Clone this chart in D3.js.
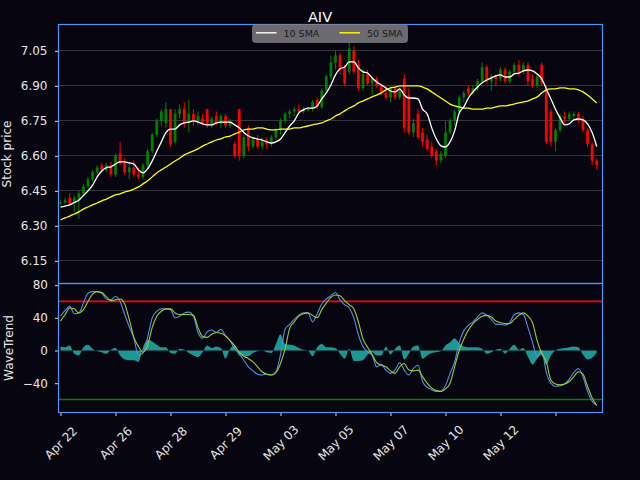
<!DOCTYPE html>
<html>
<head>
<meta charset="utf-8">
<script src="https://cdn.jsdelivr.net/npm/d3@7"></script>
<style>
	html, body { margin: 0; padding: 0; background: #07050f; overflow: hidden; }
	svg { display: block; font-family: "DejaVu Sans", sans-serif; }
</style>
</head>
<body>
<div id="chart"></div>
<script>
const W = 640, H = 480;
const bg = "#07050f";
const spine = "#4f94f7";

const ticker = "AIV";
const xLabels = ["Apr 22","Apr 26","Apr 28","Apr 29","May 03","May 05","May 07","May 10","May 12",""];
const barsPerTick = 12;
const priceTicks = [6.15, 6.30, 6.45, 6.60, 6.75, 6.90, 7.05];
const wtTicks = [-40, 0, 40, 80];
const obLevel = 60, osLevel = -60;

const opens = [
	6.395,6.40,6.42,6.395,6.41,6.44,6.47,6.50,6.53,6.56,
	6.54,6.56,6.52,6.61,6.57,6.53,6.55,6.52,6.51,6.56,
	6.62,6.69,6.75,6.74,6.80,6.66,6.78,6.80,6.74,6.78,
	6.75,6.76,6.80,6.73,6.77,6.74,6.77,6.73,6.65,6.80,
	6.60,6.72,6.64,6.67,6.64,6.67,6.65,6.68,6.71,6.75,
	6.78,6.79,6.80,6.79,6.80,6.80,6.84,6.81,6.88,6.94,
	7.00,7.03,6.98,6.96,7.05,6.99,6.89,6.95,6.91,6.93,
	6.90,6.87,6.85,6.89,6.85,6.93,6.86,6.70,6.78,6.70,
	6.67,6.64,6.62,6.58,6.60,6.70,6.75,6.79,6.85,6.89,
	6.87,6.89,6.92,6.98,6.92,6.94,6.93,6.97,6.92,6.96,
	6.99,6.96,6.99,6.93,6.90,6.99,6.89,6.79,6.66,6.71,
	6.77,6.76,6.77,6.78,6.76,6.71,6.65,6.58
];
const highs = [
	6.41,6.42,6.44,6.43,6.45,6.48,6.51,6.54,6.56,6.57,
	6.57,6.575,6.61,6.66,6.59,6.57,6.58,6.55,6.57,6.63,
	6.70,6.76,6.80,6.83,6.80,6.80,6.82,6.83,6.84,6.80,
	6.79,6.78,6.80,6.77,6.79,6.78,6.78,6.76,6.66,6.80,
	6.69,6.73,6.68,6.69,6.68,6.68,6.69,6.72,6.76,6.79,
	6.80,6.81,6.82,6.81,6.81,6.84,6.85,6.89,6.95,7.03,
	7.05,7.04,6.99,7.10,7.07,7.01,6.97,6.97,6.94,6.94,
	6.91,6.90,6.90,6.90,6.89,6.95,6.89,6.76,6.80,6.72,
	6.69,6.66,6.63,6.62,6.75,6.76,6.80,6.86,6.88,6.90,
	6.90,6.93,7.00,6.99,6.95,6.95,6.98,6.98,6.97,7.00,
	7.01,7.00,7.00,6.95,6.95,7.00,6.90,6.80,6.72,6.78,
	6.79,6.79,6.79,6.79,6.77,6.72,6.66,6.59
];
const lows = [
	6.39,6.395,6.39,6.36,6.33,6.43,6.46,6.49,6.52,6.53,
	6.53,6.51,6.51,6.56,6.52,6.50,6.51,6.50,6.50,6.55,
	6.61,6.68,6.73,6.72,6.64,6.65,6.76,6.72,6.70,6.73,
	6.73,6.73,6.72,6.72,6.73,6.72,6.72,6.72,6.59,6.58,
	6.59,6.62,6.63,6.63,6.63,6.63,6.64,6.67,6.69,6.74,
	6.76,6.77,6.78,6.78,6.79,6.79,6.80,6.80,6.87,6.93,
	6.97,6.95,6.90,6.95,6.95,6.88,6.88,6.90,6.86,6.89,
	6.86,6.84,6.83,6.84,6.84,6.70,6.69,6.68,6.67,6.64,
	6.62,6.59,6.56,6.57,6.59,6.69,6.73,6.78,6.83,6.86,
	6.86,6.88,6.91,6.91,6.88,6.90,6.92,6.91,6.91,6.95,
	6.94,6.95,6.90,6.89,6.89,6.90,6.65,6.64,6.62,6.70,
	6.74,6.75,6.76,6.74,6.70,6.64,6.56,6.54
];
const closes = [
	6.40,6.41,6.395,6.42,6.44,6.47,6.50,6.53,6.55,6.54,
	6.56,6.52,6.60,6.57,6.53,6.55,6.52,6.51,6.56,6.62,
	6.69,6.75,6.79,6.80,6.65,6.78,6.80,6.74,6.78,6.75,
	6.77,6.74,6.73,6.76,6.74,6.77,6.73,6.75,6.60,6.60,
	6.68,6.64,6.67,6.64,6.67,6.65,6.68,6.71,6.75,6.78,
	6.79,6.80,6.79,6.80,6.80,6.83,6.81,6.88,6.94,7.00,
	7.03,6.97,6.91,7.06,6.96,6.89,6.95,6.91,6.93,6.90,
	6.87,6.85,6.89,6.85,6.88,6.72,6.70,6.74,6.68,6.66,
	6.63,6.60,6.58,6.61,6.70,6.75,6.79,6.85,6.87,6.87,
	6.89,6.92,6.98,6.92,6.94,6.93,6.97,6.92,6.96,6.99,
	6.96,6.99,6.92,6.90,6.94,6.91,6.66,6.66,6.71,6.77,
	6.76,6.78,6.78,6.76,6.71,6.65,6.58,6.56
];
const sma10 = [
	6.38,6.385,6.39,6.40,6.41,6.43,6.45,6.475,6.51,6.535,
	6.55,6.553,6.565,6.574,6.574,6.57,6.565,6.54,6.527,6.544,
	6.578,6.62,6.66,6.70,6.715,6.715,6.733,6.741,6.745,6.75,
	6.745,6.737,6.733,6.733,6.741,6.745,6.745,6.745,6.733,6.72,
	6.70,6.685,6.677,6.672,6.668,6.66,6.655,6.66,6.672,6.70,
	6.728,6.75,6.784,6.797,6.805,6.805,6.814,6.844,6.87,6.904,
	6.947,6.973,6.981,7.003,7.003,6.977,6.96,6.955,6.934,6.917,
	6.904,6.891,6.878,6.874,6.887,6.861,6.848,6.848,6.844,6.80,
	6.78,6.72,6.672,6.643,6.638,6.66,6.707,6.784,6.81,6.848,
	6.874,6.895,6.913,6.925,6.934,6.943,6.947,6.938,6.938,6.951,
	6.955,6.964,6.968,6.964,6.951,6.93,6.887,6.844,6.80,6.763,
	6.733,6.737,6.754,6.758,6.754,6.737,6.70,6.64
];
const sma50 = [
	6.325,6.334,6.342,6.351,6.36,6.372,6.381,6.39,6.398,6.407,
	6.415,6.424,6.433,6.437,6.445,6.45,6.458,6.467,6.48,6.493,
	6.51,6.527,6.54,6.552,6.565,6.578,6.59,6.604,6.613,6.621,
	6.63,6.642,6.651,6.66,6.668,6.673,6.681,6.685,6.694,6.702,
	6.711,6.715,6.715,6.72,6.72,6.715,6.711,6.711,6.715,6.715,
	6.715,6.72,6.72,6.724,6.728,6.733,6.737,6.741,6.75,6.758,
	6.771,6.78,6.793,6.805,6.814,6.827,6.835,6.844,6.853,6.861,
	6.87,6.883,6.891,6.895,6.9,6.9,6.9,6.9,6.9,6.895,
	6.887,6.874,6.861,6.848,6.835,6.822,6.814,6.81,6.805,6.805,
	6.8,6.8,6.8,6.805,6.805,6.81,6.814,6.814,6.818,6.822,
	6.827,6.831,6.835,6.844,6.853,6.87,6.883,6.887,6.887,6.891,
	6.891,6.887,6.887,6.883,6.874,6.861,6.844,6.827
];
const wt1 = [
	42,49,54,45,46,58,70,72,72,70,
	63,62,66,60,44,29,15,-6,-3,16,
	40,48,51,51,50,40,42,46,47,42,
	22,15,23,25,22,26,18,12,2,-4,
	-12,-20,-25,-29,-30,-29,-30,-26,-5,26,
	32,38,43,46,46,35,45,57,63,67,
	71,62,56,52,40,19,5,-2,-6,-20,
	-17,-24,-28,-24,-15,-24,-30,-22,-18,-38,
	-45,-48,-50,-50,-43,-28,-14,10,24,31,
	35,41,46,43,38,32,32,31,34,44,
	46,44,28,10,-8,0,-27,-40,-44,-43,
	-41,-35,-27,-22,-32,-50,-62,-67
];
const wt2 = [
	36,44,52,51,46,50,60,69,72,71,
	66,61,62,63,57,38,16,5,-2,6,
	28,42,48,51,51,46,44,44,44,43,
	28,17,16,20,22,21,18,12,6,-2,
	-7,-10,-14,-20,-26,-29,-30,-27,-16,2,
	27,35,42,45,46,43,40,50,58,65,
	68,67,61,56,51,35,14,4,-5,-15,
	-18,-20,-25,-28,-20,-16,-24,-25,-24,-32,
	-40,-46,-49,-50,-47,-40,-20,0,14,25,
	33,38,42,43,41,36,34,33,33,38,
	43,46,42,34,12,-4,-14,-36,-41,-42,
	-41,-38,-32,-26,-29,-44,-58,-67
];
const wtHist = [
	5,4,6,-4,-6,4,7,2,-1,-2,
	-4,1,3,-6,-11,-12,-12,-14,4,13,
	11,7,4,4,-3,-4,2,1,-3,-6,
	-8,-2,6,3,5,3,-10,2,6,-6,
	-6,-7,-3,-1,0,-2,-3,8,20,8,
	7,6,3,1,0,-7,4,8,4,4,
	3,-4,-10,2,-13,-13,-12,-5,-2,-6,
	-6,5,-5,2,6,-11,-4,5,6,-10,
	-6,-3,-2,-1,6,10,15,9,5,4,
	4,4,2,-4,-2,1,2,-4,2,7,
	1,3,-8,-17,-10,-5,-17,-6,0,2,
	3,4,5,4,-5,-11,-9,-2
];

const pricePanel = { x0: 58.5, x1: 602.5, y0: 24.5, y1: 283.5 };
const wtPanel = { y0: 283.5, y1: 412.5 };

const idx = d3.range(closes.length);

const svg = d3.select("#chart").append("svg")
	.attr("width", W)
	.attr("height", H);

svg.append("rect").attr("width", W).attr("height", H).attr("fill", bg);

const x = d3.scaleLinear()
	.domain([-0.44, 118.26])
	.range([pricePanel.x0, pricePanel.x1]);

const yP = d3.scaleLinear()
	.domain([6.053, 7.163])
	.range([pricePanel.y1, pricePanel.y0]);

const yW = d3.scaleLinear()
	.domain([-75.9, 82])
	.range([wtPanel.y1, wtPanel.y0]);

const pw = pricePanel.x1 - pricePanel.x0;
const crisp = v => Math.round(v - 0.5) + 0.5;

// clip paths so nothing spills out of the two panels
const defs = svg.append("defs");
defs.append("clipPath").attr("id", "clipTop").append("rect")
	.attr("x", pricePanel.x0).attr("y", pricePanel.y0).attr("width", pw).attr("height", pricePanel.y1 - pricePanel.y0);
defs.append("clipPath").attr("id", "clipBot").append("rect")
	.attr("x", pricePanel.x0).attr("y", wtPanel.y0).attr("width", pw).attr("height", wtPanel.y1 - wtPanel.y0);

// grid on the price panel
svg.append("g")
	.selectAll("line")
	.data(priceTicks)
	.enter().append("line")
	.attr("x1", pricePanel.x0).attr("x2", pricePanel.x1)
	.attr("y1", d => crisp(yP(d))).attr("y2", d => crisp(yP(d)))
	.attr("stroke", "#37333d").attr("stroke-width", 1);

// candles
const pTop = svg.append("g").attr("clip-path", "url(#clipTop)");
const bw = (x(1) - x(0)) * 0.6;

const candles = pTop.selectAll(".candle")
	.data(idx)
	.enter().append("g")
	.attr("class", "candle");

const candleColor = i => closes[i] >= opens[i] ? "#008000" : "#ff0000";

candles.append("line")
	.attr("x1", i => x(i)).attr("x2", i => x(i))
	.attr("y1", i => yP(highs[i])).attr("y2", i => yP(lows[i]))
	.attr("stroke", candleColor).attr("stroke-width", 1);

candles.append("rect")
	.attr("x", i => x(i) - bw / 2)
	.attr("width", bw)
	.attr("y", i => yP(Math.max(opens[i], closes[i])))
	.attr("height", i => Math.max(1, Math.abs(yP(opens[i]) - yP(closes[i]))))
	.attr("fill", candleColor);

const smaLine = arr => d3.line().x(i => x(i)).y(i => yP(arr[i])).curve(d3.curveMonotoneX);

pTop.append("path").datum(idx).attr("d", smaLine(sma50))
	.attr("fill", "none").attr("stroke", "#ffff00").attr("stroke-width", 1.3);
pTop.append("path").datum(idx).attr("d", smaLine(sma10))
	.attr("fill", "none").attr("stroke", "#ffffff").attr("stroke-width", 1.3);

// wavetrend panel
const pBot = svg.append("g").attr("clip-path", "url(#clipBot)");

pBot.append("path").datum(idx)
	.attr("d", d3.area().x(i => x(i)).y0(yW(0)).y1(i => yW(wtHist[i])).curve(d3.curveMonotoneX))
	.attr("fill", "#20b2aa").attr("fill-opacity", 0.85);

// overbought / oversold levels
pBot.append("line")
	.attr("x1", pricePanel.x0).attr("x2", pricePanel.x1)
	.attr("y1", yW(obLevel)).attr("y2", yW(obLevel))
	.attr("stroke", "#ff0000").attr("stroke-width", 1.7);
pBot.append("line")
	.attr("x1", pricePanel.x0).attr("x2", pricePanel.x1)
	.attr("y1", yW(osLevel)).attr("y2", yW(osLevel))
	.attr("stroke", "#008000").attr("stroke-width", 1.7);

const wtLine = arr => d3.line().x(i => x(i)).y(i => yW(arr[i])).curve(d3.curveMonotoneX);

pBot.append("path").datum(idx).attr("d", wtLine(wt1))
	.attr("fill", "none").attr("stroke", "#4f8fe6").attr("stroke-width", 1.1);
pBot.append("path").datum(idx).attr("d", wtLine(wt2))
	.attr("fill", "none").attr("stroke", "#9acd32").attr("stroke-width", 1.1);

// axes
const styleAxis = g => {
	g.select(".domain").remove();
	g.selectAll(".tick line").attr("stroke", "#dddddd");
	g.selectAll(".tick text").attr("fill", "#e6e6e6").attr("font-family", "DejaVu Sans").attr("font-size", "12px");
};

svg.append("g")
	.attr("transform", `translate(${pricePanel.x0},0)`)
	.call(d3.axisLeft(yP).tickValues(priceTicks).tickFormat(d3.format(".2f")).tickSize(3.5).tickPadding(7.5))
	.call(styleAxis);

svg.append("g")
	.attr("transform", `translate(${pricePanel.x0},0)`)
	.call(d3.axisLeft(yW).tickValues(wtTicks).tickFormat(d3.format("d")).tickSize(3.5).tickPadding(7))
	.call(styleAxis);

const xAxis = svg.append("g")
	.attr("transform", `translate(0,${wtPanel.y1})`)
	.call(d3.axisBottom(x)
		.tickValues(d3.range(0, xLabels.length * barsPerTick, barsPerTick))
		.tickFormat((d, i) => xLabels[i])
		.tickSize(3.5))
	.call(styleAxis);

xAxis.selectAll(".tick text")
	.attr("font-size", "12px")
	.attr("text-anchor", "middle")
	.attr("dy", null)
	.attr("dominant-baseline", "central")
	.attr("y", null)
	.attr("transform", "translate(0,30.5) rotate(-45)");

// spines
const sp = svg.append("g").attr("fill", "none").attr("stroke", spine).attr("stroke-width", 1.2);
sp.append("rect").attr("x", pricePanel.x0).attr("y", pricePanel.y0).attr("width", pw).attr("height", pricePanel.y1 - pricePanel.y0);
sp.append("rect").attr("x", pricePanel.x0).attr("y", wtPanel.y0).attr("width", pw).attr("height", wtPanel.y1 - wtPanel.y0);

// axis titles
svg.append("text")
	.attr("transform", `translate(7,${(pricePanel.y0 + pricePanel.y1) / 2}) rotate(-90)`)
	.attr("text-anchor", "middle").attr("dominant-baseline", "central")
	.attr("fill", "#e6e6e6").attr("font-size", "12px")
	.text("Stock price");

svg.append("text")
	.attr("transform", `translate(8.5,${(wtPanel.y0 + wtPanel.y1) / 2}) rotate(-90)`)
	.attr("text-anchor", "middle").attr("dominant-baseline", "central")
	.attr("fill", "#e6e6e6").attr("font-size", "12px")
	.text("WaveTrend");

svg.append("text")
	.attr("x", 320).attr("y", 21.5)
	.attr("text-anchor", "middle")
	.attr("fill", "#ffffff").attr("font-size", "14.5px")
	.text(ticker);

// legend
const legend = svg.append("g");
legend.append("rect")
	.attr("x", 252.5).attr("y", 24.5).attr("width", 155).attr("height", 18).attr("rx", 3)
	.attr("fill", "#6c6a70").attr("stroke", "#8a888e").attr("stroke-width", 0.6);

const legendItems = [
	{ label: "10 SMA", color: "#ffffff", lx: 256 },
	{ label: "50 SMA", color: "#ffff00", lx: 339.5 }
];
legendItems.forEach(it => {
	legend.append("line")
		.attr("x1", it.lx).attr("x2", it.lx + 20.5)
		.attr("y1", 32.8).attr("y2", 32.8)
		.attr("stroke", it.color).attr("stroke-width", 1.4);
	legend.append("text")
		.attr("x", it.lx + 27.5).attr("y", 33)
		.attr("dominant-baseline", "central")
		.attr("fill", "#1a1a1a").attr("font-size", "9.5px")
		.text(it.label);
});
</script>
</body>
</html>
